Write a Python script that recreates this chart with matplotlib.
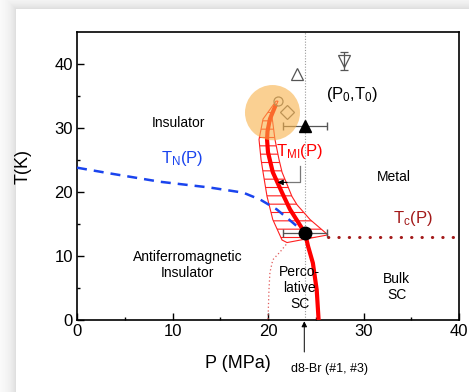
import numpy as np
import matplotlib
matplotlib.use("Agg")
import matplotlib.pyplot as plt
from matplotlib.patches import Polygon, Ellipse

plt.rcParams['font.family'] = ['Liberation Sans', 'DejaVu Sans']
plt.rcParams['mathtext.fontset'] = 'custom'
plt.rcParams['mathtext.rm'] = 'Liberation Sans'
plt.rcParams['mathtext.it'] = 'Liberation Sans'
plt.rcParams['hatch.linewidth'] = 0.8

# ---- data ----
x_ticks = [0, 10, 20, 30, 40]
y_ticks = [0, 10, 20, 30, 40]

# metal-insulator line T_MI(P)
tmi_P = [20.84, 20.2, 19.95, 19.9, 20.0, 20.5, 21.47, 22.3, 23.87, 24.2, 24.7, 25.1, 25.3]
tmi_T = [33.7, 31.4, 29.5, 28.2, 26.2, 23.1, 19.9, 17.3, 13.6, 11.5, 8.9, 4.7, 0.0]

# uncertainty band around T_MI
band_T_left = [34.2, 31.4, 28.2, 25.1, 23.1, 19.3, 15.7, 12.5, 12.1]
band_P_left = [20.84, 19.48, 19.06, 19.27, 19.48, 19.9, 20.5, 21.47, 21.99]
band_T_right = [34.2, 32.0, 28.2, 25.1, 23.1, 19.3, 18.0, 15.7, 13.3]
band_P_right = [21.05, 20.4, 20.73, 21.15, 21.47, 22.51, 23.04, 24.4, 26.28]

# Neel temperature T_N(P)
tn_P = [0.0, 3.46, 8.7, 13.9, 17.4, 19.2, 20.9, 22.6, 23.7]
tn_T = [23.8, 22.9, 21.6, 20.7, 19.9, 18.8, 17.3, 15.2, 13.8]

# superconducting Tc(P)
tc_P = [26.3, 40.0]
tc_T = [13.0, 13.0]

# percolative SC boundary
perc_P = [21.9, 21.3, 20.5, 20.2, 20.1, 20.0]
perc_T = [11.8, 10.7, 9.4, 7.4, 4.7, 0.0]

# d8-Br sample pressure
p_sample = 23.9

# critical end point and other measured points
crit_P, crit_T, crit_err = 23.9, 13.6, 2.3
tri_P, tri_T, tri_err = 23.9, 30.3, 2.3
open_up_P, open_up_T = 23.0, 38.4
open_dn_P, open_dn_T, open_dn_err = 28.0, 40.5, 1.4
diam_P, diam_T = 22.0, 32.5
circ_P, circ_T = 21.0, 34.2
p0t0_P, p0t0_T = 20.47, 32.4

# ---- figure ----
W, H = 469, 392
fig = plt.figure(figsize=(W / 100, H / 100), dpi=100)

# page background with soft drop shadow on the top and left
bg = fig.add_axes([0, 0, 1, 1], zorder=-10)
yy, xx = np.mgrid[0:H, 0:W]
px0, py0 = 16, 9
dx = np.clip(px0 - xx, 0, None)
dy = np.clip(py0 - yy, 0, None)
outside = (xx < px0) | (yy < py0)
d = np.maximum(dx, dy).astype(float)
val = np.where(outside, 1 - 0.14 * np.exp(-d / 8.0), 1.0)
bg.imshow(np.dstack([val] * 3), extent=[0, W, H, 0], aspect='auto', interpolation='bilinear')
bg.set_xlim(0, W)
bg.set_ylim(H, 0)
bg.axis('off')

ax = fig.add_axes([77 / W, 1 - 320 / H, (459 - 77) / W, (320 - 32) / H])
ax.set_xlim(0, 40)
ax.set_ylim(0, 45)

# vertical guide at the sample pressure
ax.axvline(p_sample, color='#9a9a9a', lw=0.8, ls=(0, (1, 1.5)), zorder=1)

# hatched band
band_poly = list(zip(band_P_left, band_T_left)) + list(zip(band_P_right[::-1], band_T_right[::-1]))
ax.add_patch(Polygon(band_poly, closed=True, facecolor='none', edgecolor='#ff2020',
                     hatch='--', lw=0.8, zorder=2))

# T_N dashed line
ax.plot(tn_P, tn_T, color='#1a44ee', lw=1.8, ls=(0, (4, 2.8)), zorder=3)

# percolative boundary
ax.plot(perc_P, perc_T, color='#e05a5a', lw=0.9, ls=(0, (1, 2)), zorder=3)

# Tc dotted line
ax.plot(tc_P, tc_T, color='#a31a1a', lw=2.2, ls=(0, (0.1, 3.3)),
        dash_capstyle='round', zorder=3)

# T_MI thick line
ax.plot(tmi_P, tmi_T, color='#ff0000', lw=3.0, solid_capstyle='butt',
        solid_joinstyle='round', zorder=4)

# markers
ax.plot(circ_P, circ_T, 'o', ms=6.5, mfc='none', mec='#666666', mew=0.9, zorder=5)
ax.plot(diam_P, diam_T, 'D', ms=7, mfc='none', mec='#666666', mew=0.9, zorder=5)
ax.plot(open_up_P, open_up_T, '^', ms=9, mfc='none', mec='#555555', mew=0.9, zorder=5)
ax.errorbar(open_dn_P, open_dn_T, yerr=open_dn_err, fmt='v', ms=9, mfc='none',
            mec='#555555', mew=0.9, ecolor='#555555', elinewidth=0.9, capsize=3, zorder=5)
ax.errorbar(tri_P, tri_T, xerr=tri_err, fmt='^', ms=8, color='black',
            ecolor='#555555', elinewidth=0.9, capsize=3, zorder=5)
ax.errorbar(crit_P, crit_T, xerr=crit_err, fmt='o', ms=9, color='black',
            ecolor='#555555', elinewidth=0.9, capsize=3, zorder=6)

# (P0, T0) region
ax.add_patch(Ellipse((p0t0_P, p0t0_T), width=5.76, height=8.63,
                     facecolor='#f8b24a', edgecolor='none', alpha=0.6, zorder=7))

# bracket pointing at T_MI
ax.plot([23.35, 23.35, 21.8], [24.0, 21.5, 21.5], color='#777777', lw=0.9, zorder=5)
ax.annotate('', xy=(21.0, 21.5), xytext=(22.0, 21.5),
            arrowprops=dict(arrowstyle='-|>', color='black', lw=0.8,
                            mutation_scale=8, shrinkA=0, shrinkB=0), zorder=5)

# text labels
fs_small = 10
ax.text(10.58, 30.75, 'Insulator', fontsize=fs_small, ha='center', va='center')
ax.text(33.2, 22.3, 'Metal', fontsize=fs_small, ha='center', va='center')
ax.text(11.6, 8.6, 'Antiferromagnetic\nInsulator', fontsize=fs_small,
        ha='center', va='center', linespacing=1.1)
ax.text(23.3, 5.0, 'Perco-\nlative\nSC', fontsize=fs_small, ha='center',
        va='center', linespacing=1.15, zorder=8)
ax.text(33.5, 5.2, 'Bulk\nSC', fontsize=fs_small, ha='center', va='center', linespacing=1.15)
ax.text(11.0, 25.2, r'T$_\mathrm{N}$(P)', fontsize=12, color='#1a44ee', ha='center', va='center')
ax.text(23.3, 26.3, r'T$_\mathrm{MI}$(P)', fontsize=12, color='#ff0000', ha='center', va='center', zorder=8)
ax.text(35.2, 15.9, r'T$_\mathrm{c}$(P)', fontsize=12, color='#a31a1a', ha='center', va='center')
ax.text(28.8, 35.3, r'(P$_\mathrm{0}$,T$_\mathrm{0}$)', fontsize=12, ha='center', va='center')

# sample arrow below the axis
ax.annotate('', xy=(23.8, -0.2), xytext=(23.8, -5.0),
            arrowprops=dict(arrowstyle='-|>', color='black', lw=0.7,
                            mutation_scale=8, shrinkA=0, shrinkB=0),
            annotation_clip=False)
ax.text(26.4, -7.7, 'd8-Br (#1, #3)', fontsize=9, ha='center', va='center', clip_on=False)

# axes styling
ax.set_xticks(x_ticks)
ax.set_yticks(y_ticks)
ax.set_xticks(np.arange(5, 40, 10), minor=True)
ax.set_yticks(np.arange(5, 45, 10), minor=True)
ax.tick_params(which='both', direction='in', width=1.0, labelsize=12, pad=3)
ax.tick_params(which='major', length=5)
ax.tick_params(which='minor', length=2.5)
for s in ax.spines.values():
    s.set_linewidth(1.2)

ax.set_xlabel('P (MPa)', fontsize=13)
ax.xaxis.label.set_verticalalignment('center')
ax.xaxis.set_label_coords((238 - 77) / 382, (320 - 364) / 288)
ax.set_ylabel('T(K)', fontsize=13)
ax.yaxis.label.set_verticalalignment('center')
ax.yaxis.set_label_coords((23 - 77) / 382, (320 - 167) / 288)

fig.savefig('out.png', dpi=100)
